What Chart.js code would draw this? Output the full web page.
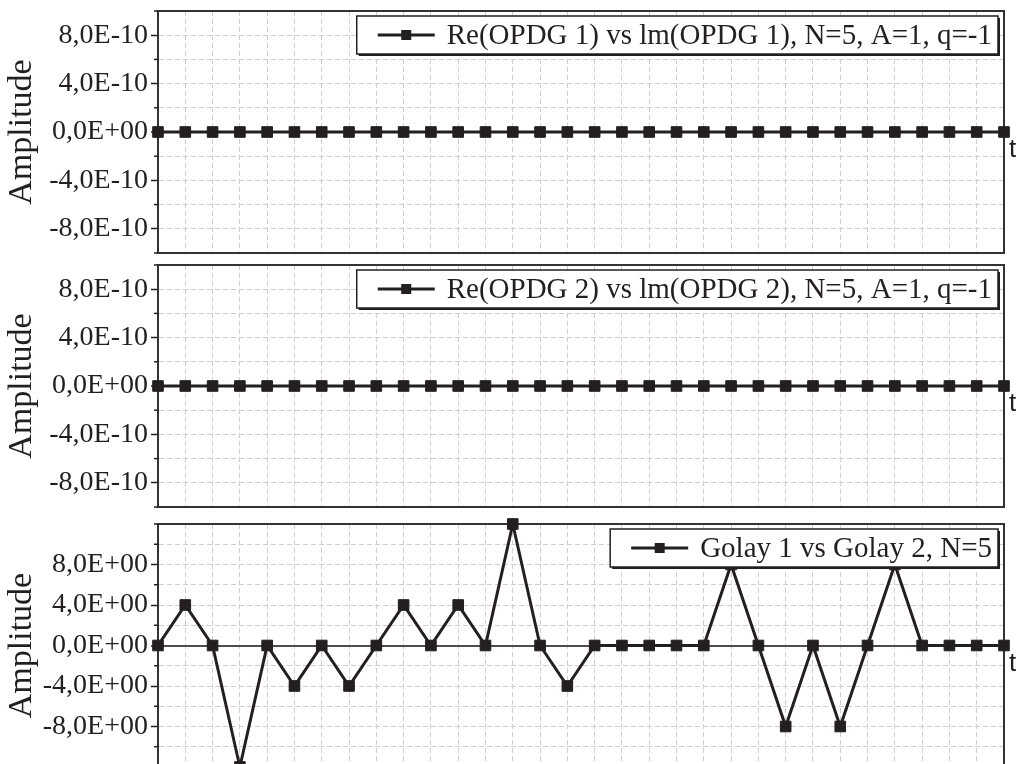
<!DOCTYPE html>
<html lang="en">
<head>
    <meta charset="UTF-8">
    <title>OPDG / Golay amplitude</title>
    <script src="https://cdn.jsdelivr.net/npm/chart.js"></script>
    <style>
        html, body {
            margin: 0;
            padding: 0;
            width: 1016px;
            height: 764px;
            overflow: hidden;
            background-color: #fff;
        }
        .panel {
            position: absolute;
            left: 0;
        }
    </style>
</head>
<body>
    <canvas id="chart1" class="panel" width="1016" height="282" style="top:-9px"></canvas>
    <canvas id="chart2" class="panel" width="1016" height="282" style="top:245px"></canvas>
    <canvas id="chart3" class="panel" width="1016" height="283" style="top:504px"></canvas>

    <script>
        // sample index t
        const tLabels = [0, 1, 2, 3, 4, 5, 6, 7, 8, 9, 10, 11, 12, 13, 14, 15,
                         16, 17, 18, 19, 20, 21, 22, 23, 24, 25, 26, 27, 28, 29, 30, 31];

        const opdg1Values = [0, 0, 0, 0, 0, 0, 0, 0, 0, 0, 0, 0, 0, 0, 0, 0,
                             0, 0, 0, 0, 0, 0, 0, 0, 0, 0, 0, 0, 0, 0, 0, 0];
        const opdg2Values = [0, 0, 0, 0, 0, 0, 0, 0, 0, 0, 0, 0, 0, 0, 0, 0,
                             0, 0, 0, 0, 0, 0, 0, 0, 0, 0, 0, 0, 0, 0, 0, 0];
        const golayValues = [0, 4, 0, -12, 0, -4, 0, -4, 0, 4, 0, 4, 0, 12, 0, -4,
                             0, 0, 0, 0, 0, 8, 0, -8, 0, -8, 0, 8, 0, 0, 0, 0];

        const seriesNames = [
            'Re(OPDG 1) vs lm(OPDG 1), N=5, A=1, q=-1',
            'Re(OPDG 2) vs lm(OPDG 2), N=5, A=1, q=-1',
            'Golay 1 vs Golay 2, N=5'
        ];

        // labelled y ticks
        const opdgTicks = [-8e-10, -4e-10, 0, 4e-10, 8e-10];
        const golayTicks = [-8, -4, 0, 4, 8];

        const ink = '#231f20';
        const gridColor = '#cfcfcf';
        const frameColor = '#333333';

        Chart.defaults.font.family = '"Liberation Serif", serif';

        // 8e-10 -> "8,0E-10"
        function sci(v, eps) {
            if (Math.abs(v) < eps) v = 0;
            const parts = v.toExponential(1).split('e');
            const n = parseInt(parts[1], 10);
            return parts[0].replace('.', ',') + 'E' + (n < 0 ? '-' : '+') + String(Math.abs(n)).padStart(2, '0');
        }

        // frame on top and right of the plot area
        const framePlugin = {
            id: 'frame',
            beforeDatasetsDraw(chart) {
                const { ctx, chartArea: a } = chart;
                ctx.save();
                ctx.strokeStyle = frameColor;
                ctx.lineWidth = 2;
                ctx.beginPath();
                ctx.moveTo(a.left, a.top);
                ctx.lineTo(a.right, a.top);
                ctx.lineTo(a.right, a.bottom);
                ctx.stroke();
                ctx.restore();
            }
        };

        // legend box, minor ticks and the "t" label
        function extrasPlugin(isMajor) {
            return {
                id: 'extras',
                afterDraw(chart) {
                    const { ctx, chartArea: a } = chart;
                    const yScale = chart.scales.y;
                    const label = chart.data.datasets[0].label;

                    ctx.save();
                    // minor ticks
                    ctx.strokeStyle = ink;
                    ctx.lineWidth = 1.5;
                    yScale.ticks.forEach(t => {
                        if (!isMajor(t.value)) {
                            const py = yScale.getPixelForValue(t.value);
                            ctx.beginPath();
                            ctx.moveTo(a.left - 4, py);
                            ctx.lineTo(a.left, py);
                            ctx.stroke();
                        }
                    });

                    // t label
                    const zeroY = yScale.getPixelForValue(0);
                    ctx.fillStyle = ink;
                    ctx.font = '26px "Liberation Sans", sans-serif';
                    ctx.textAlign = 'left';
                    ctx.textBaseline = 'alphabetic';
                    ctx.fillText('t', a.right + 5, zeroY + 25);

                    // legend
                    ctx.font = '29px "Liberation Serif", serif';
                    const tw = ctx.measureText(label).width;
                    const right = a.right - 6;
                    const top = a.top + 5;
                    const h = 38;
                    const textLeft = right - 6 - tw;
                    const symRight = textLeft - 12;
                    const symLeft = symRight - 57;
                    const left = symLeft - 21;
                    const midY = top + h / 2;

                    ctx.fillStyle = ink;
                    ctx.fillRect(left + 2, top + 2, right - left, h);
                    ctx.fillStyle = '#fff';
                    ctx.fillRect(left, top, right - left, h);
                    ctx.strokeStyle = ink;
                    ctx.lineWidth = 1.5;
                    ctx.strokeRect(left, top, right - left, h);

                    ctx.lineWidth = 3;
                    ctx.beginPath();
                    ctx.moveTo(symLeft, midY);
                    ctx.lineTo(symRight, midY);
                    ctx.stroke();
                    ctx.fillStyle = ink;
                    ctx.fillRect((symLeft + symRight) / 2 - 5, midY - 5, 10, 10);

                    ctx.textBaseline = 'middle';
                    ctx.fillText(label, textLeft, midY + 1);
                    ctx.restore();
                }
            };
        }

        function makeChart(id, values, label, range, step, labelled) {
            const eps = step * 1e-6;
            const isMajor = v => labelled.some(t => Math.abs(t - v) < eps);
            const isZero = c => c.tick !== undefined && Math.abs(c.tick.value) < eps;

            return new Chart(document.getElementById(id), {
                type: 'line',
                data: {
                    labels: tLabels,
                    datasets: [{
                        label: label,
                        data: values,
                        borderColor: ink,
                        borderWidth: 3,
                        pointStyle: 'rect',
                        pointRadius: 7.5,
                        pointBorderWidth: 1,
                        pointBackgroundColor: ink,
                        pointBorderColor: ink,
                        tension: 0,
                        clip: false
                    }]
                },
                options: {
                    responsive: false,
                    maintainAspectRatio: false,
                    animation: false,
                    events: [],
                    layout: { padding: { left: 0, right: 12, top: 20, bottom: 20 } },
                    plugins: {
                        legend: { display: false },
                        tooltip: { enabled: false }
                    },
                    scales: {
                        x: {
                            type: 'category',
                            offset: false,
                            afterFit: scale => { scale.height = 0; },
                            ticks: { display: false },
                            grid: { color: gridColor, lineWidth: 1, drawTicks: false, offset: false },
                            border: { color: frameColor, width: 2, dash: [5, 3] }
                        },
                        y: {
                            min: -range,
                            max: range,
                            afterBuildTicks: scale => {
                                const n = Math.round(2 * range / step);
                                const ticks = [];
                                for (let i = 0; i <= n; i++) ticks.push({ value: -range + i * step });
                                scale.ticks = ticks;
                            },
                            afterFit: scale => { scale.width = 158; },
                            ticks: {
                                autoSkip: false,
                                padding: 3,
                                color: ink,
                                font: { size: 28 },
                                callback: value => isMajor(value) ? sci(value, eps) : ''
                            },
                            grid: {
                                color: c => isZero(c) ? '#4d4d4d' : gridColor,
                                lineWidth: c => isZero(c) ? 2 : 1,
                                tickLength: 7,
                                tickWidth: 1.5,
                                tickColor: c => (c.tick && isMajor(c.tick.value)) ? ink : 'rgba(0,0,0,0)'
                            },
                            border: {
                                color: frameColor,
                                width: 2,
                                dash: c => isZero(c) ? [] : [5, 3]
                            },
                            title: {
                                display: true,
                                text: 'Amplitude',
                                color: ink,
                                font: { size: 34 },
                                padding: { top: 2, bottom: 0 }
                            }
                        }
                    }
                },
                plugins: [framePlugin, extrasPlugin(isMajor)]
            });
        }

        makeChart('chart1', opdg1Values, seriesNames[0], 1e-9, 2e-10, opdgTicks);
        makeChart('chart2', opdg2Values, seriesNames[1], 1e-9, 2e-10, opdgTicks);
        makeChart('chart3', golayValues, seriesNames[2], 12, 2, golayTicks);
    </script>
</body>
</html>
